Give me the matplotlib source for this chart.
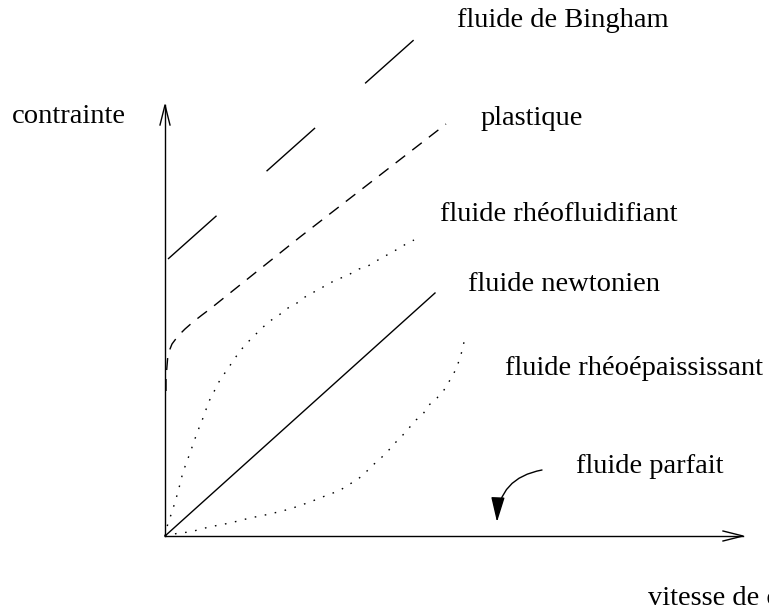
import numpy as np
import matplotlib
matplotlib.use("Agg")
import matplotlib.pyplot as plt

# coordinates: x = vitesse (px from the origin), y = contrainte (px up from origin)
PT = 72 / 100  # one pixel in points at dpi 100

# curves
bingham_x = [3, 251]
bingham_y = [277, 498]

plast_x = [1, 1, 2, 3, 7, 13, 20, 28, 37, 45, 135, 281]
plast_y = [145, 157, 170, 182, 192, 200, 207, 214, 221, 227, 299, 412]

fluid_x = [0, 3, 7, 13, 18, 25, 32, 36, 40, 43, 48, 52, 57, 62, 68, 75, 82, 90, 97, 105,
           114, 123, 132, 140, 149, 158, 167, 176, 185, 194, 203, 213, 222, 231, 241, 249]
fluid_y = [0, 13, 24, 44, 64, 83, 103, 113, 123, 133, 142, 151, 159, 166, 175, 185, 193, 201, 208, 215,
           221, 228, 233, 239, 244, 249, 254, 258, 262, 267, 270, 276, 281, 286, 292, 296]

newton_x = [0, 270]
newton_y = [0, 243]

epais_x = [0, 14, 25, 44, 65, 85, 105, 125, 145, 165, 174, 183, 192, 200, 208, 216, 223, 230,
           237, 244, 251, 258, 264, 272, 279, 285, 290, 294, 297, 299]
epais_y = [0, 3, 4, 9, 13, 18, 22, 27, 34, 42, 45, 51, 56, 63, 71, 78, 85, 93,
           100, 108, 116, 122, 131, 138, 146, 156, 165, 175, 185, 194]

labels = ["fluide de Bingham", "plastique", "fluide rhéofluidifiant", "fluide newtonien",
          "fluide rhéoépaississant", "fluide parfait"]
label_x = [292, 316, 275, 303, 340, 411]
label_y = [509, 411, 315, 245, 161, 63]

fig = plt.figure(figsize=(7.69, 6.09), dpi=100)
ax = fig.add_axes([0, 0, 1, 1])
ax.set_xlim(-165, 604)
ax.set_ylim(-73, 536)
ax.axis("off")

lw = 1.0
# axes with open arrow heads
ax.plot([0, 0], [0, 431], color="black", lw=lw)
ax.plot([-5, 0, 5], [411, 431, 411], color="black", lw=lw)
ax.plot([0, 578], [0, 0], color="black", lw=lw)
ax.plot([558, 578, 558], [5, 0, -5], color="black", lw=lw)

ax.plot(bingham_x, bingham_y, color="black", lw=lw,
        dashes=(65 * PT / lw, 67 * PT / lw), dash_capstyle="butt")
ax.plot(plast_x, plast_y, color="black", lw=lw,
        dashes=(12 * PT / lw, 9 * PT / lw), dash_capstyle="butt")
ax.plot(fluid_x, fluid_y, color="black", lw=lw,
        dashes=(1.6 * PT / lw, 8.6 * PT / lw), dash_capstyle="butt")
ax.plot(newton_x, newton_y, color="black", lw=lw)
ax.plot(epais_x, epais_y, color="black", lw=lw,
        dashes=(1.6 * PT / lw, 8.6 * PT / lw), dash_capstyle="butt")

# curved arrow pointing to the x axis (fluide parfait)
ax.annotate("", xy=(332, 14), xytext=(377, 66),
            arrowprops=dict(arrowstyle="-|>,head_length=1.1,head_width=0.3",
                            mutation_scale=14, color="black", lw=lw,
                            connectionstyle="arc3,rad=0.4", shrinkA=0, shrinkB=0))

font = dict(family="Liberation Serif", fontsize=20.5, va="baseline", ha="left")
for t, x, y in zip(labels, label_x, label_y):
    ax.text(x, y, t, **font)
ax.text(-153, 413, "contrainte", **font)
# the reference crops this label at the right edge
ax.text(483, -69, "vitesse de cisaillement", clip_on=False, **font)

fig.savefig("out.png", dpi=100)
